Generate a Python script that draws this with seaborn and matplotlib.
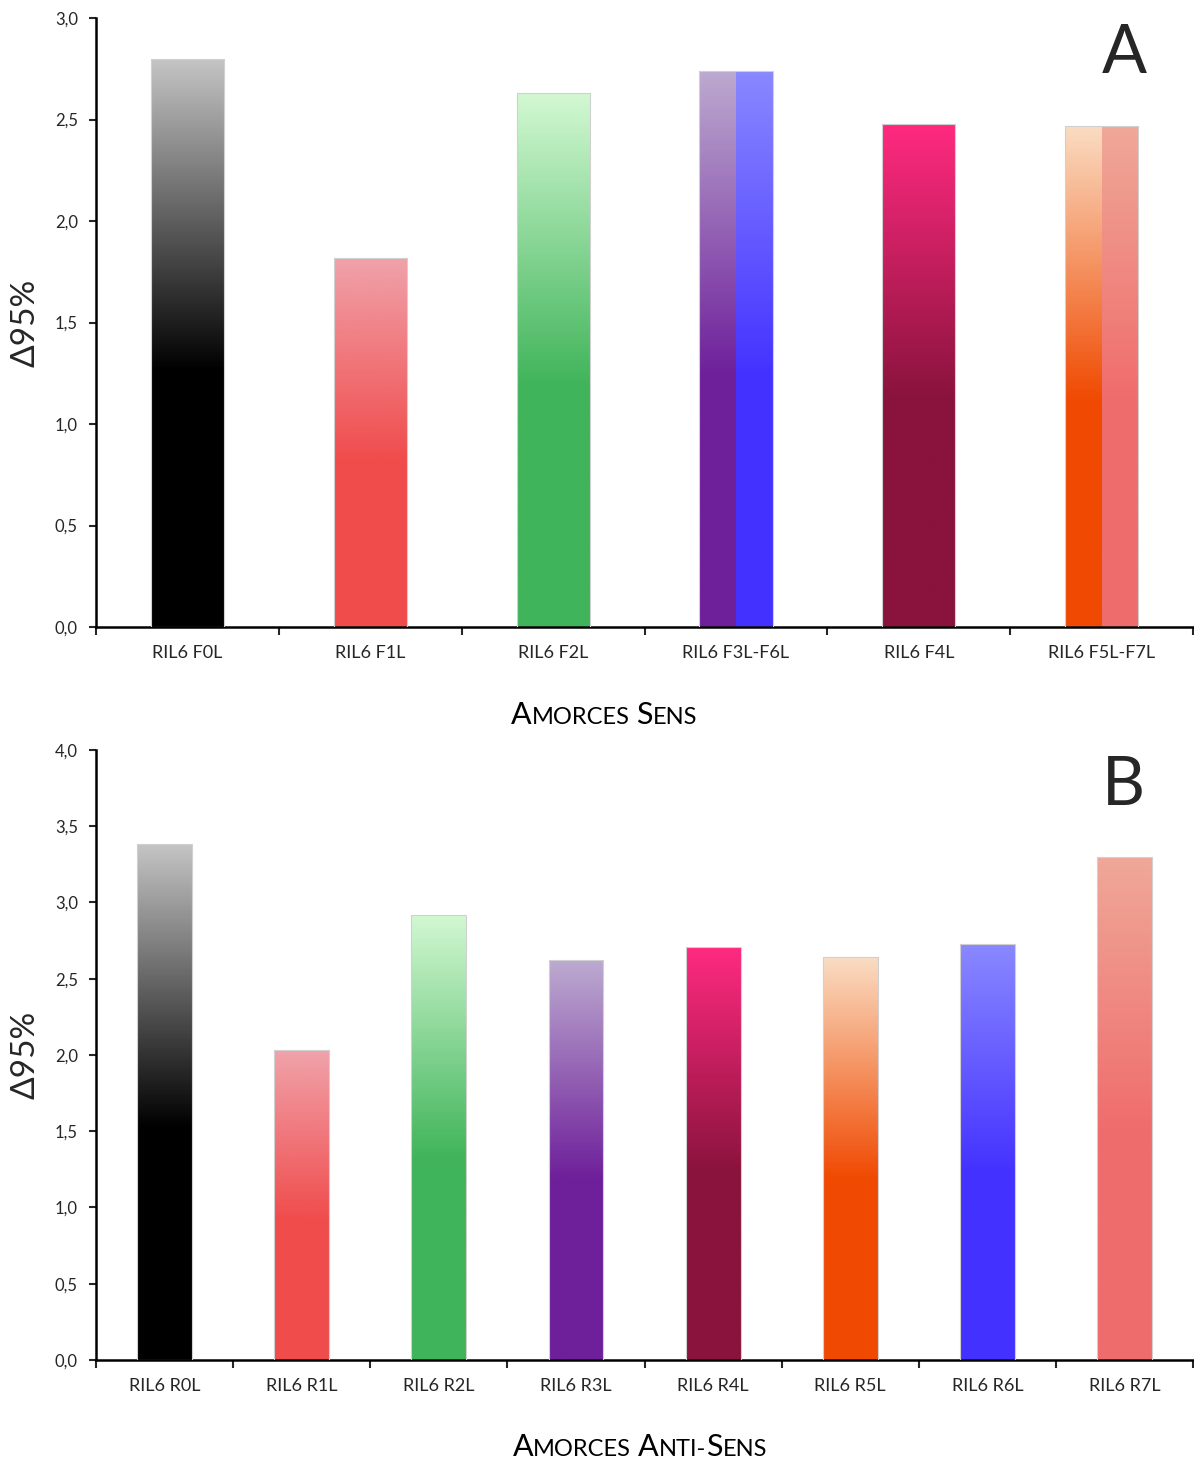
import numpy as np
import matplotlib
matplotlib.use('Agg')
import matplotlib.pyplot as plt
import seaborn as sns
from matplotlib.colors import LinearSegmentedColormap
from matplotlib.offsetbox import TextArea, HPacker, AnchoredOffsetbox

# data
sens_labels = ['RIL6 F0L', 'RIL6 F1L', 'RIL6 F2L', 'RIL6 F3L-F6L', 'RIL6 F4L', 'RIL6 F5L-F7L']
sens_values = [2.80, 1.82, 2.63, 2.74, 2.48, 2.47]

anti_labels = ['RIL6 R0L', 'RIL6 R1L', 'RIL6 R2L', 'RIL6 R3L',
               'RIL6 R4L', 'RIL6 R5L', 'RIL6 R6L', 'RIL6 R7L']
anti_values = [3.38, 2.03, 2.92, 2.62, 2.71, 2.64, 2.73, 3.30]

sens_yticks = [0.0, 0.5, 1.0, 1.5, 2.0, 2.5, 3.0]
anti_yticks = [0.0, 0.5, 1.0, 1.5, 2.0, 2.5, 3.0, 3.5, 4.0]

# colour of each bar (split bars have two halves)
sens_fill = [['black'], ['red'], ['green'], ['purple', 'blue'], ['crimson'], ['orange', 'salmon']]
anti_fill = [['black'], ['red'], ['green'], ['purple'], ['crimson'], ['orange'], ['blue'], ['salmon']]

# (full colour at bottom, light colour at top)
gradients = {
    'black': ('#000000', '#c4c4c4'),
    'red': ('#f04c4c', '#f0a2aa'),
    'green': ('#40b45a', '#d2f8d2'),
    'purple': ('#6e1f9a', '#bcaad0'),
    'blue': ('#4332ff', '#8a88ff'),
    'crimson': ('#89133c', '#ff2a80'),
    'orange': ('#f04a02', '#fadcc2'),
    'salmon': ('#ef6c6c', '#f0a898'),
}

sns.set_style('white')
plt.rcParams['font.family'] = ['Lato', 'DejaVu Sans']


def fill_gradient(ax, patch, names):
    x, w, h = patch.get_x(), patch.get_width(), patch.get_height()
    f = np.linspace(0, 1, 256)
    s = np.clip((f - 0.45) / 0.55, 0, 1)
    img = s[:, None]
    n = len(names)
    for i, name in enumerate(names):
        cmap = LinearSegmentedColormap.from_list(name, gradients[name])
        x0 = x + i * w / n
        im = ax.imshow(img, cmap=cmap, vmin=0, vmax=1, origin='lower', aspect='auto',
                       extent=[x0, x0 + w / n, 0, h], zorder=2, interpolation='bilinear')
        im.set_clip_path(patch)
    patch.set_facecolor('none')
    patch.set_edgecolor('#d0d0d0')
    patch.set_linewidth(0.8)
    patch.set_zorder(3)


def small_caps(words, big=22, small=17):
    packs = []
    for word in words:
        parts = []
        for ch_big, rest in word:
            if ch_big:
                parts.append(TextArea(ch_big, textprops=dict(fontsize=big, color='black')))
            if rest:
                parts.append(TextArea(rest, textprops=dict(fontsize=small, color='black')))
        packs.append(HPacker(children=parts, align='baseline', pad=0, sep=0))
    return HPacker(children=packs, align='baseline', pad=0, sep=5)


def draw_panel(ax, labels, values, fills, yticks, letter):
    sns.barplot(x=labels, y=values, ax=ax, width=0.4, color='white')
    for patch, names in zip(ax.patches, fills):
        fill_gradient(ax, patch, names)
    n = len(labels)
    ax.set_xlim(-0.5, n - 0.5)
    ax.set_ylim(yticks[0], yticks[-1])
    ax.set_yticks(yticks)
    ax.set_yticklabels([f'{t:.1f}'.replace('.', ',') for t in yticks], fontsize=12)
    ax.set_xticks(range(n))
    ax.set_xticklabels(labels, fontsize=13)
    ax.set_xticks(np.arange(n + 1) - 0.5, minor=True)
    ax.tick_params(axis='x', which='major', length=0, pad=13)
    ax.tick_params(axis='x', which='minor', length=6, width=1.5, direction='out', bottom=True)
    ax.tick_params(axis='y', length=5, width=1.5, direction='out', left=True, pad=8)
    sns.despine(ax=ax)
    for sp in ['left', 'bottom']:
        ax.spines[sp].set_linewidth(1.8)
        ax.spines[sp].set_color('black')
    ax.set_ylabel('Δ95%', fontsize=24)
    ax.yaxis.set_label_coords(-0.051, 0.5)
    ax.text(0.937, 0.91, letter, transform=ax.transAxes, fontsize=48,
            ha='center', va='baseline')


fig = plt.figure(figsize=(11.94, 14.63), dpi=100)
ax1 = fig.add_axes([0.0804, 0.5714, 0.9188, 0.4163])
ax2 = fig.add_axes([0.0804, 0.0704, 0.9188, 0.4170])

draw_panel(ax1, sens_labels, sens_values, sens_fill, sens_yticks, 'A')
draw_panel(ax2, anti_labels, anti_values, anti_fill, anti_yticks, 'B')

top_title = small_caps([[('A', 'MORCES')], [('S', 'ENS')]])
fig.add_artist(AnchoredOffsetbox(loc='center', child=top_title, pad=0, borderpad=0, frameon=False,
                                 bbox_to_anchor=(0.506, 0.5113), bbox_transform=fig.transFigure))
bot_title = small_caps([[('A', 'MORCES')], [('A', 'NTI-'), ('S', 'ENS')]])
fig.add_artist(AnchoredOffsetbox(loc='center', child=bot_title, pad=0, borderpad=0, frameon=False,
                                 bbox_to_anchor=(0.536, 0.0109), bbox_transform=fig.transFigure))

fig.savefig('out.png', dpi=100)
